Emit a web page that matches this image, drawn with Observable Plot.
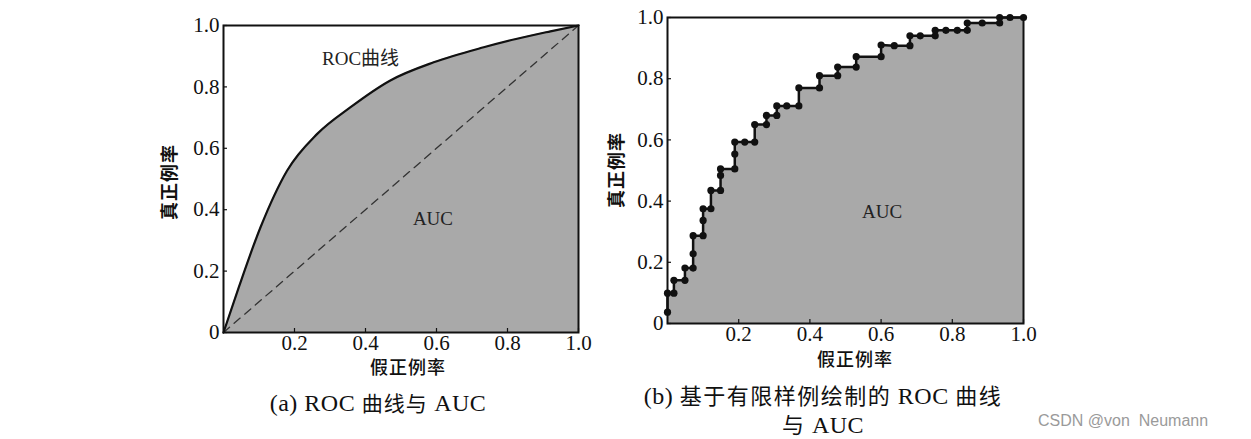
<!DOCTYPE html>
<html>
<head>
<meta charset="utf-8">
<script src="https://cdn.jsdelivr.net/npm/d3@7"></script>
<script src="https://cdn.jsdelivr.net/npm/@observablehq/plot@0.6"></script>
<style>
  html, body { margin: 0; padding: 0; background: #fff; }
  #page { position: relative; width: 1251px; height: 439px; overflow: hidden; background: #fff;
          font-family: "Liberation Serif", "Noto Sans CJK SC", serif; color: #111; }
  .abs { position: absolute; white-space: pre; }
  .ylab { font-family: "Noto Sans CJK SC", sans-serif; font-weight: 700; font-size: 18px; transform: translate(-50%, -50%) rotate(-90deg); letter-spacing: 1px; }
  .xlab { font-family: "Noto Sans CJK SC", sans-serif; font-weight: 500; font-size: 18px; transform: translate(-50%, -50%); letter-spacing: 1px; }
  .cap { font-size: 24px; transform: translate(-50%, -50%); letter-spacing: 0.5px; }
  .cjk { font-family: "Noto Sans CJK SC", sans-serif; font-size: 21px; letter-spacing: 1px; }
  .capb .cjk { font-size: 22px; letter-spacing: 1.5px; }
  .wm { font-family: "Liberation Sans", Arial, sans-serif; font-size: 16px; color: #9a9a9a; }
</style>
</head>
<body>
<div id="page">
  <div id="left" class="abs" style="left:150px; top:0px;"></div>
  <div id="right" class="abs" style="left:600px; top:0px;"></div>
  <div class="abs ylab" style="left:168px; top:182px;">真正例率</div>
  <div class="abs xlab" style="left:408px; top:366px;">假正例率</div>
  <div class="abs ylab" style="left:615px; top:170px;">真正例率</div>
  <div class="abs xlab" style="left:855px; top:358px;">假正例率</div>
  <div class="abs cap" style="left:378px; top:402px;">(a) ROC <span class="cjk">曲线与</span> AUC</div>
  <div class="abs cap capb" style="left:823px; top:394px;">(b) <span class="cjk">基于有限样例绘制的</span> ROC <span class="cjk">曲线</span></div>
  <div class="abs cap capb" style="left:823px; top:423px;"><span class="cjk">与</span> AUC</div>
  <div class="abs wm" style="left:1038px; top:412px;">CSDN @von  Neumann</div>
</div>
<script>
// ---- data ----
const xTicks = [0.2, 0.4, 0.6, 0.8, 1.0];
const yTicks = [0, 0.2, 0.4, 0.6, 0.8, 1.0];

// (a) smooth ROC curve
const rocFpr = [0, 0.043, 0.104, 0.179, 0.264, 0.358, 0.470, 0.592, 0.733, 0.827, 0.921, 1.0];
const rocTpr = [0, 0.147, 0.342, 0.527, 0.647, 0.734, 0.821, 0.880, 0.929, 0.957, 0.981, 1.0];
const diagFpr = [0, 1];
const diagTpr = [0, 1];

// (b) ROC from finite samples
const stepFpr = [0, 0, 0.018, 0.018, 0.049, 0.049, 0.072, 0.072, 0.072, 0.100, 0.100, 0.100, 0.122, 0.122, 0.149, 0.149, 0.149,
  0.189, 0.189, 0.189, 0.217, 0.245, 0.245, 0.278, 0.278, 0.307, 0.307, 0.335, 0.369, 0.369, 0.427, 0.427, 0.478, 0.478,
  0.530, 0.530, 0.600, 0.600, 0.637, 0.681, 0.681, 0.710, 0.752, 0.752, 0.782, 0.814, 0.842, 0.842, 0.884, 0.933, 0.933, 0.962, 1.0];
const stepTpr = [0.037, 0.099, 0.099, 0.141, 0.141, 0.181, 0.181, 0.228, 0.287, 0.287, 0.337, 0.375, 0.375, 0.435, 0.435, 0.484, 0.505,
  0.505, 0.554, 0.593, 0.593, 0.593, 0.650, 0.650, 0.680, 0.680, 0.711, 0.711, 0.711, 0.770, 0.770, 0.810, 0.810, 0.838,
  0.838, 0.872, 0.872, 0.910, 0.908, 0.908, 0.940, 0.940, 0.940, 0.958, 0.958, 0.958, 0.958, 0.982, 0.982, 0.982, 1.0, 1.0, 1.0];

const labelsA = [{x: 0.386, y: 0.89, t: "ROC曲线"}, {x: 0.59, y: 0.37, t: "AUC"}];
const labelsB = [{x: 0.603, y: 0.364, t: "AUC"}];

// ---- tables ----
const roc = rocFpr.map((x, i) => ({x, y: rocTpr[i]}));
const diag = diagFpr.map((x, i) => ({x, y: diagTpr[i]}));
const steps = stepFpr.map((x, i) => ({x, y: stepTpr[i]}));

const GREY = "#a9a9a9";
const fmt = d => d === 0 ? "0" : d.toFixed(1);

function axes() {
  return [
    Plot.axisX({ticks: xTicks, tickSize: 0, tickPadding: 3, tickFormat: fmt, label: null}),
    Plot.axisX({ticks: xTicks, tickSize: -4, tickFormat: () => "", label: null, strokeWidth: 1.2}),
    Plot.axisY({ticks: yTicks, tickSize: 0, tickPadding: 4, tickFormat: fmt, label: null}),
    Plot.axisY({ticks: yTicks, tickSize: -4, tickFormat: () => "", label: null, strokeWidth: 1.2})
  ];
}
const style = {fontFamily: "'Liberation Serif', 'Noto Sans CJK SC', serif", fontSize: "21px", color: "#111", background: "transparent", overflow: "visible"};

const plotA = Plot.plot({
  width: 450, height: 380,
  marginLeft: 73, marginRight: 22, marginTop: 25, marginBottom: 48,
  x: {domain: [0, 1]}, y: {domain: [0, 1]},
  style,
  marks: [
    Plot.area(roc, {x1: "x", y1: 0, y2: "y", fill: GREY, curve: "monotone-x"}),
    Plot.line(diag, {x: "x", y: "y", stroke: "#333", strokeWidth: 1.3, strokeDasharray: "8,6"}),
    Plot.line(roc, {x: "x", y: "y", stroke: "#111", strokeWidth: 2.2, curve: "monotone-x"}),
    Plot.frame({stroke: "#111", strokeWidth: 2}),
    ...axes(),
    Plot.text(labelsA, {x: "x", y: "y", text: "t", fontSize: 19, fill: "#222"})
  ]
});
document.getElementById("left").appendChild(plotA);

const plotB = Plot.plot({
  width: 450, height: 380,
  marginLeft: 67, marginRight: 27, marginTop: 17, marginBottom: 57,
  x: {domain: [0, 1]}, y: {domain: [0, 1]},
  style,
  marks: [
    Plot.area(steps, {x1: "x", y1: 0, y2: "y", fill: GREY}),
    Plot.frame({stroke: "#111", strokeWidth: 2}),
    Plot.line(steps, {x: "x", y: "y", stroke: "#111", strokeWidth: 2.5}),
    Plot.dot(steps, {x: "x", y: "y", r: 3.6, fill: "#111"}),
    ...axes(),
    Plot.text(labelsB, {x: "x", y: "y", text: "t", fontSize: 19, fill: "#222"})
  ]
});
document.getElementById("right").appendChild(plotB);
</script>
</body>
</html>
